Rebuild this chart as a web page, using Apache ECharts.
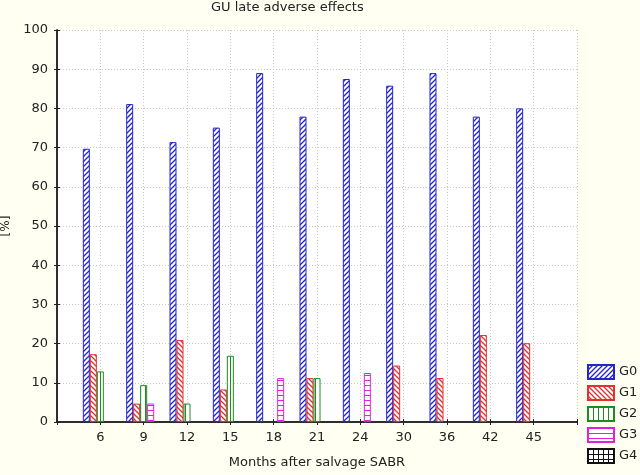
<!DOCTYPE html>
<html><head><meta charset="utf-8">
<script src="https://cdn.jsdelivr.net/npm/echarts@6/dist/echarts.min.js"></script>
<style>html,body{margin:0;padding:0;background:#fffff2;}#c{width:640px;height:475px;}</style>
</head><body><div id="c"></div>
<script>
var months = ['6','9','12','15','18','21','24','30','36','42','45'];
var seriesNames = ['G0','G1','G2','G3','G4'];
var g0 = [69.7, 81.1, 71.4, 75.1, 89.0, 77.9, 87.5, 85.8, 89.0, 77.9, 80.0];
var g1 = [17.3, 4.7, 20.9, 8.3, 0, 11.2, 0, 14.4, 11.2, 22.2, 20.1];
var g2 = [12.9, 9.4, 4.7, 16.9, 0, 11.2, 0, 0, 0, 0, 0];
var g3 = [0, 4.7, 0, 0, 11.2, 0, 12.5, 0, 0, 0, 0];
var g4 = [0, 0, 0, 0, 0, 0, 0, 0, 0, 0, 0];
var yTicks = [0,10,20,30,40,50,60,70,80,90,100];

function pat(kind, color){
  var c = document.createElement('canvas');
  var s = 5; c.width = s; c.height = s;
  var x = c.getContext('2d');
  x.fillStyle = '#fff'; x.fillRect(0,0,s,s);
  x.strokeStyle = color; x.lineWidth = 1.3;
  x.beginPath();
  if (kind === 'fwd') { x.moveTo(-1,s+1); x.lineTo(s+1,-1); x.moveTo(-1,1); x.lineTo(1,-1); x.moveTo(s-1,s+1); x.lineTo(s+1,s-1); }
  else if (kind === 'back') { x.moveTo(-1,-1); x.lineTo(s+1,s+1); x.moveTo(s-1,-1); x.lineTo(s+1,1); x.moveTo(-1,s-1); x.lineTo(1,s+1); }
  else if (kind === 'vert') { x.lineWidth = 1; x.moveTo(0.5,0); x.lineTo(0.5,s); }
  else if (kind === 'horiz') { x.lineWidth = 1; x.moveTo(0,0.5); x.lineTo(s,0.5); }
  else { x.lineWidth = 1; x.moveTo(0.5,0); x.lineTo(0.5,s); x.moveTo(0,0.5); x.lineTo(s,0.5); }
  x.stroke();
  return {image: c, repeat: 'repeat'};
}
var cols = ['#2424cc','#e03030','#1e8c1e','#e020e0','#111111'];
var kinds = ['fwd','back','vert','horiz','grid'];
var vals = [g0,g1,g2,g3,g4];

var font = 'DejaVu Sans';
var series = seriesNames.map(function(n,i){
  return {
    name: n, type: 'bar', xAxisIndex: 0, yAxisIndex: 0,
    barWidth: 7, barGap: '0%',
    itemStyle: {color: pat(kinds[i], cols[i]), borderColor: cols[i], borderWidth: 1},
    data: vals[i].map(function(v,k){ return [k+1, v === 0 ? null : v]; })
  };
});

var chart = echarts.init(document.getElementById('c'));
chart.setOption({
  backgroundColor: '#fffff2',
  animation: false,
  title: {text: 'GU late adverse effects', left: 211, top: 1, padding: 0,
    textStyle: {fontFamily: font, fontSize: 13, fontWeight: 'normal', color: '#222'}},
  legend: {orient: 'vertical', left: 587, top: 364, padding: 0, itemWidth: 26, itemHeight: 14, itemGap: 5,
    icon: 'rect',
    data: seriesNames, textStyle: {fontFamily: font, fontSize: 13, color: '#222'}},
  grid: {left: 57, right: 63, top: 30, bottom: 53, outerBoundsMode: 'none', containLabel: false,
    show: true, backgroundColor: '#ffffff', borderWidth: 0},
  xAxis: [{
    type: 'value', min: 0, max: 12, interval: 1, position: 'bottom',
    name: 'Months after salvage SABR', nameLocation: 'middle', nameGap: 34,
    nameTextStyle: {fontFamily: font, fontSize: 13, color: '#222'},
    axisLine: {lineStyle: {color: '#222', width: 1.5}},
    axisTick: {inside: true, length: 3, lineStyle: {color: '#222'}},
    axisLabel: {fontFamily: font, fontSize: 13, color: '#222', margin: 9,
      formatter: function(v){ return (v >= 1 && v <= months.length) ? months[v-1] : ''; }},
    splitLine: {show: true, lineStyle: {color: '#c8c8c8', type: [1,2]}}
  },{
    type: 'value', min: 0, max: 12, interval: 1, position: 'top',
    axisLine: {show: true, lineStyle: {color: '#222', width: 1.5}},
    axisTick: {inside: true, length: 3, lineStyle: {color: '#222'}},
    axisLabel: {show: false}, splitLine: {show: false}
  }],
  yAxis: [{
    type: 'value', min: 0, max: 100, interval: 10, position: 'left',
    name: '[%]', nameLocation: 'middle', nameGap: 44, nameRotate: 90,
    nameTextStyle: {fontFamily: font, fontSize: 12, color: '#222'},
    axisLine: {show: true, lineStyle: {color: '#222', width: 1.5}},
    axisTick: {show: true, inside: true, length: 3, lineStyle: {color: '#222'}},
    axisLabel: {fontFamily: font, fontSize: 13, color: '#222', margin: 9,
      formatter: function(v){ return yTicks.indexOf(v) >= 0 ? String(v) : ''; }},
    splitLine: {show: true, lineStyle: {color: '#c8c8c8', type: [1,2]}}
  },{
    type: 'value', min: 0, max: 100, interval: 10, position: 'right',
    axisLine: {show: true, lineStyle: {color: '#222', width: 1.5}},
    axisTick: {show: true, inside: true, length: 3, lineStyle: {color: '#222'}},
    axisLabel: {show: false}, splitLine: {show: false}
  }],
  series: series
});
</script></body></html>
